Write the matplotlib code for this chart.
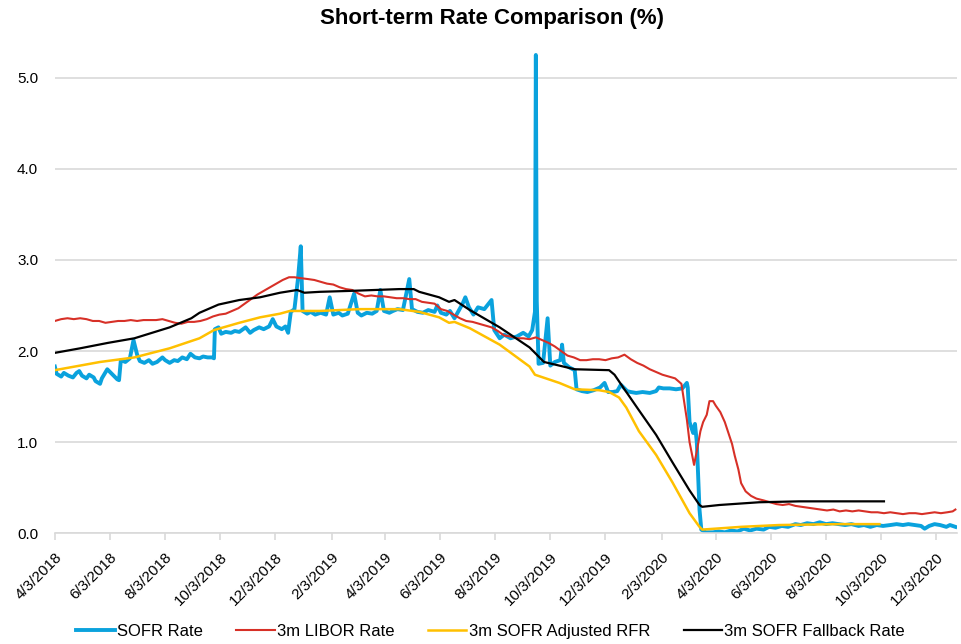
import pandas as pd
import matplotlib
matplotlib.use("Agg")
import matplotlib.pyplot as plt

plt.rcParams['font.family'] = ['Liberation Sans', 'DejaVu Sans']

# SOFR Rate
sofr_dates = ["2018-04-03", "2018-04-05", "2018-04-10", "2018-04-13", "2018-04-18", "2018-04-23", "2018-04-27",
              "2018-04-30", "2018-05-03", "2018-05-08", "2018-05-11", "2018-05-16", "2018-05-18", "2018-05-23",
              "2018-05-25", "2018-05-31", "2018-06-04", "2018-06-07", "2018-06-11", "2018-06-13", "2018-06-15",
              "2018-06-20", "2018-06-25", "2018-06-29", "2018-07-03", "2018-07-06", "2018-07-11", "2018-07-16",
              "2018-07-20", "2018-07-25", "2018-07-31", "2018-08-03", "2018-08-08", "2018-08-13", "2018-08-17",
              "2018-08-22", "2018-08-27", "2018-08-31", "2018-09-05", "2018-09-10", "2018-09-14", "2018-09-19",
              "2018-09-24", "2018-09-26", "2018-09-27", "2018-10-01", "2018-10-04", "2018-10-09", "2018-10-15",
              "2018-10-19", "2018-10-24", "2018-10-31", "2018-11-05", "2018-11-09", "2018-11-15", "2018-11-20",
              "2018-11-26", "2018-11-30", "2018-12-04", "2018-12-10", "2018-12-14", "2018-12-17", "2018-12-20",
              "2018-12-24", "2018-12-28", "2018-12-31", "2019-01-02", "2019-01-07", "2019-01-11", "2019-01-16",
              "2019-01-22", "2019-01-28", "2019-02-01", "2019-02-05", "2019-02-11", "2019-02-15", "2019-02-21",
              "2019-02-28", "2019-03-04", "2019-03-08", "2019-03-14", "2019-03-20", "2019-03-25", "2019-03-29",
              "2019-04-02", "2019-04-08", "2019-04-12", "2019-04-17", "2019-04-23", "2019-04-30", "2019-05-03",
              "2019-05-09", "2019-05-15", "2019-05-21", "2019-05-28", "2019-05-31", "2019-06-04", "2019-06-10",
              "2019-06-14", "2019-06-19", "2019-06-24", "2019-06-28", "2019-07-01", "2019-07-05", "2019-07-10",
              "2019-07-15", "2019-07-22", "2019-07-30", "2019-08-02", "2019-08-08", "2019-08-13", "2019-08-20",
              "2019-08-27", "2019-09-03", "2019-09-09", "2019-09-13", "2019-09-16", "2019-09-17", "2019-09-18",
              "2019-09-20", "2019-09-25", "2019-09-30", "2019-10-03", "2019-10-08", "2019-10-14", "2019-10-16",
              "2019-10-18", "2019-10-24", "2019-10-30", "2019-11-01", "2019-11-07", "2019-11-13", "2019-11-20",
              "2019-11-27", "2019-12-02", "2019-12-06", "2019-12-11", "2019-12-16", "2019-12-20", "2019-12-27",
              "2019-12-31", "2020-01-06", "2020-01-13", "2020-01-21", "2020-01-28", "2020-01-31", "2020-02-05",
              "2020-02-12", "2020-02-19", "2020-02-26", "2020-03-02", "2020-03-03", "2020-03-05", "2020-03-09",
              "2020-03-11", "2020-03-13", "2020-03-16", "2020-03-18", "2020-03-23", "2020-03-31", "2020-04-06",
              "2020-04-13", "2020-04-20", "2020-04-27", "2020-05-04", "2020-05-11", "2020-05-18", "2020-05-26",
              "2020-06-01", "2020-06-08", "2020-06-15", "2020-06-22", "2020-06-30", "2020-07-06", "2020-07-13",
              "2020-07-20", "2020-07-27", "2020-08-03", "2020-08-10", "2020-08-17", "2020-08-24", "2020-08-31",
              "2020-09-08", "2020-09-14", "2020-09-21", "2020-09-28", "2020-10-05", "2020-10-13", "2020-10-20",
              "2020-10-27", "2020-11-02", "2020-11-09", "2020-11-16", "2020-11-20", "2020-11-25", "2020-12-01",
              "2020-12-07", "2020-12-14", "2020-12-18", "2020-12-24"]
sofr_vals = [1.83, 1.75, 1.72, 1.76, 1.73, 1.71, 1.76,
             1.78, 1.73, 1.70, 1.74, 1.71, 1.67, 1.64,
             1.70, 1.80, 1.76, 1.73, 1.69, 1.68, 1.90,
             1.88, 1.92, 2.12, 1.96, 1.89, 1.87, 1.90,
             1.86, 1.88, 1.93, 1.90, 1.87, 1.90, 1.89,
             1.93, 1.91, 1.97, 1.93, 1.92, 1.94, 1.93,
             1.93, 1.92, 2.24, 2.26, 2.19, 2.21, 2.20,
             2.22, 2.21, 2.26, 2.20, 2.23, 2.26, 2.24,
             2.27, 2.35, 2.27, 2.24, 2.27, 2.20, 2.43,
             2.46, 2.80, 3.15, 2.44, 2.41, 2.43, 2.40,
             2.42, 2.40, 2.59, 2.40, 2.42, 2.39, 2.41,
             2.63, 2.42, 2.39, 2.42, 2.41, 2.44, 2.67,
             2.44, 2.42, 2.44, 2.46, 2.45, 2.79, 2.46,
             2.43, 2.42, 2.45, 2.43, 2.50, 2.42, 2.40,
             2.44, 2.36, 2.45, 2.52, 2.59, 2.48, 2.40,
             2.48, 2.46, 2.56, 2.23, 2.14, 2.18, 2.14,
             2.16, 2.20, 2.16, 2.23, 2.43, 5.25, 2.55,
             1.86, 1.87, 2.36, 1.84, 1.88, 1.90, 2.07,
             1.87, 1.82, 1.79, 1.58, 1.56, 1.55, 1.57,
             1.60, 1.65, 1.55, 1.55, 1.56, 1.63, 1.56,
             1.55, 1.54, 1.55, 1.54, 1.56, 1.60, 1.59,
             1.59, 1.58, 1.59, 1.65, 1.60, 1.22, 1.10,
             1.20, 1.00, 0.26, 0.04, 0.01, 0.01, 0.02,
             0.01, 0.03, 0.02, 0.05, 0.03, 0.05, 0.04,
             0.07, 0.06, 0.08, 0.07, 0.10, 0.09, 0.11,
             0.10, 0.12, 0.10, 0.11, 0.10, 0.09, 0.10,
             0.08, 0.09, 0.07, 0.09, 0.08, 0.09, 0.10,
             0.09, 0.10, 0.09, 0.08, 0.05, 0.08, 0.10,
             0.09, 0.07, 0.09, 0.07]

# 3m LIBOR Rate
libor_dates = ["2018-04-03", "2018-04-10", "2018-04-17", "2018-04-24", "2018-05-01", "2018-05-08", "2018-05-15",
               "2018-05-22", "2018-05-29", "2018-06-05", "2018-06-12", "2018-06-19", "2018-06-26", "2018-07-03",
               "2018-07-10", "2018-07-17", "2018-07-24", "2018-07-31", "2018-08-07", "2018-08-14", "2018-08-21",
               "2018-08-28", "2018-09-04", "2018-09-11", "2018-09-18", "2018-09-25", "2018-10-02", "2018-10-09",
               "2018-10-16", "2018-10-23", "2018-10-30", "2018-11-06", "2018-11-13", "2018-11-20", "2018-11-27",
               "2018-12-04", "2018-12-11", "2018-12-18", "2018-12-24", "2018-12-31", "2019-01-08", "2019-01-15",
               "2019-01-22", "2019-01-29", "2019-02-05", "2019-02-12", "2019-02-19", "2019-02-26", "2019-03-05",
               "2019-03-12", "2019-03-19", "2019-03-26", "2019-04-02", "2019-04-09", "2019-04-16", "2019-04-23",
               "2019-04-30", "2019-05-07", "2019-05-14", "2019-05-21", "2019-05-28", "2019-06-04", "2019-06-11",
               "2019-06-18", "2019-06-25", "2019-07-02", "2019-07-09", "2019-07-16", "2019-07-23", "2019-07-30",
               "2019-08-06", "2019-08-13", "2019-08-20", "2019-08-27", "2019-09-03", "2019-09-10", "2019-09-17",
               "2019-09-24", "2019-10-01", "2019-10-08", "2019-10-15", "2019-10-22", "2019-10-29", "2019-11-05",
               "2019-11-12", "2019-11-19", "2019-11-26", "2019-12-03", "2019-12-10", "2019-12-17", "2019-12-24",
               "2019-12-31", "2020-01-07", "2020-01-14", "2020-01-21", "2020-01-28", "2020-02-04", "2020-02-11",
               "2020-02-18", "2020-02-25", "2020-03-02", "2020-03-05", "2020-03-10", "2020-03-13", "2020-03-17",
               "2020-03-20", "2020-03-24", "2020-03-27", "2020-03-31", "2020-04-03", "2020-04-08", "2020-04-13",
               "2020-04-17", "2020-04-21", "2020-04-24", "2020-04-28", "2020-05-01", "2020-05-06", "2020-05-12",
               "2020-05-18", "2020-05-26", "2020-06-02", "2020-06-09", "2020-06-16", "2020-06-23", "2020-06-30",
               "2020-07-07", "2020-07-14", "2020-07-21", "2020-07-28", "2020-08-04", "2020-08-11", "2020-08-18",
               "2020-08-25", "2020-09-01", "2020-09-08", "2020-09-15", "2020-09-22", "2020-09-29", "2020-10-06",
               "2020-10-13", "2020-10-20", "2020-10-27", "2020-11-03", "2020-11-10", "2020-11-17", "2020-11-24",
               "2020-12-01", "2020-12-08", "2020-12-15", "2020-12-21", "2020-12-24"]
libor_vals = [2.33, 2.35, 2.36, 2.35, 2.36, 2.35, 2.33,
              2.33, 2.31, 2.32, 2.33, 2.33, 2.34, 2.33,
              2.34, 2.34, 2.34, 2.35, 2.33, 2.31, 2.30,
              2.32, 2.32, 2.33, 2.35, 2.38, 2.40, 2.41,
              2.44, 2.47, 2.52, 2.57, 2.62, 2.66, 2.70,
              2.74, 2.78, 2.81, 2.81, 2.80, 2.79, 2.78,
              2.76, 2.74, 2.73, 2.70, 2.68, 2.67, 2.63,
              2.60, 2.61, 2.60, 2.60, 2.59, 2.58, 2.58,
              2.57, 2.57, 2.54, 2.53, 2.52, 2.46, 2.44,
              2.40, 2.36, 2.33, 2.32, 2.30, 2.28, 2.26,
              2.22, 2.17, 2.16, 2.14, 2.14, 2.13, 2.15,
              2.12, 2.09, 2.05, 2.00, 1.95, 1.93, 1.90,
              1.90, 1.91, 1.91, 1.90, 1.92, 1.93, 1.96,
              1.91, 1.87, 1.84, 1.80, 1.77, 1.74, 1.72,
              1.70, 1.64, 1.25, 1.00, 0.75, 0.90, 1.12,
              1.22, 1.30, 1.45, 1.45, 1.40, 1.33, 1.22,
              1.10, 0.98, 0.85, 0.70, 0.55, 0.46, 0.41,
              0.38, 0.36, 0.34, 0.32, 0.31, 0.32, 0.30,
              0.29, 0.28, 0.27, 0.26, 0.25, 0.26, 0.24,
              0.25, 0.24, 0.25, 0.24, 0.23, 0.23, 0.22,
              0.23, 0.22, 0.21, 0.22, 0.22, 0.21, 0.22,
              0.23, 0.22, 0.23, 0.24, 0.26]

# 3m SOFR Adjusted RFR
adj_dates = ["2018-04-03", "2018-05-23", "2018-06-30", "2018-08-08", "2018-09-10", "2018-09-26", "2018-10-24",
             "2018-11-16", "2018-12-08", "2018-12-19", "2019-01-21", "2019-03-06", "2019-04-19", "2019-05-11",
             "2019-06-02", "2019-06-13", "2019-06-19", "2019-07-06", "2019-08-08", "2019-09-10", "2019-09-16",
             "2019-10-13", "2019-10-30", "2019-11-26", "2019-12-07", "2019-12-18", "2019-12-26", "2020-01-09",
             "2020-01-28", "2020-02-15", "2020-03-05", "2020-03-16", "2020-03-19", "2020-05-01", "2020-06-12",
             "2020-08-17", "2020-10-01"]
adj_vals = [1.79, 1.88, 1.93, 2.03, 2.14, 2.23, 2.31,
            2.37, 2.41, 2.44, 2.44, 2.46, 2.46, 2.43,
            2.37, 2.31, 2.32, 2.25, 2.07, 1.83, 1.74,
            1.65, 1.58, 1.57, 1.55, 1.49, 1.38, 1.12,
            0.86, 0.56, 0.22, 0.07, 0.04, 0.07, 0.09,
            0.10, 0.10]

# 3m SOFR Fallback Rate
fb_dates = ["2018-04-03", "2018-05-01", "2018-06-01", "2018-06-30", "2018-08-08", "2018-09-01", "2018-09-10",
            "2018-10-01", "2018-10-24", "2018-11-16", "2018-12-08", "2018-12-27", "2019-01-04", "2019-01-21",
            "2019-02-23", "2019-04-19", "2019-05-05", "2019-05-11", "2019-06-02", "2019-06-13", "2019-06-19",
            "2019-07-06", "2019-08-08", "2019-09-10", "2019-09-16", "2019-09-26", "2019-10-30", "2019-12-07",
            "2019-12-13", "2019-12-24", "2020-01-09", "2020-01-28", "2020-02-15", "2020-03-05", "2020-03-16",
            "2020-03-19", "2020-04-07", "2020-05-21", "2020-07-04", "2020-08-17", "2020-10-06"]
fb_vals = [1.98, 2.03, 2.09, 2.14, 2.26, 2.36, 2.42,
           2.51, 2.56, 2.59, 2.64, 2.67, 2.64, 2.65,
           2.66, 2.68, 2.68, 2.65, 2.59, 2.54, 2.56,
           2.45, 2.26, 2.04, 1.98, 1.88, 1.80, 1.79,
           1.74, 1.58, 1.35, 1.08, 0.78, 0.47, 0.31,
           0.29, 0.31, 0.34, 0.35, 0.35, 0.35]

tick_dates = ["2018-04-03", "2018-06-03", "2018-08-03", "2018-10-03", "2018-12-03", "2019-02-03", "2019-04-03",
              "2019-06-03", "2019-08-03", "2019-10-03", "2019-12-03", "2020-02-03", "2020-04-03", "2020-06-03",
              "2020-08-03", "2020-10-03", "2020-12-03"]
tick_labels = ["4/3/2018", "6/3/2018", "8/3/2018", "10/3/2018", "12/3/2018", "2/3/2019", "4/3/2019",
               "6/3/2019", "8/3/2019", "10/3/2019", "12/3/2019", "2/3/2020", "4/3/2020", "6/3/2020",
               "8/3/2020", "10/3/2020", "12/3/2020"]

fig = plt.figure(figsize=(9.62, 6.44), dpi=100)
ax = fig.add_axes([0.057, 0.172, 0.938, 0.778])

ax.plot(pd.to_datetime(sofr_dates), sofr_vals, color="#0AA2DD", lw=2.8, label="SOFR Rate")
ax.plot(pd.to_datetime(libor_dates), libor_vals, color="#D73027", lw=1.5, label="3m LIBOR Rate")
ax.plot(pd.to_datetime(adj_dates), adj_vals, color="#FFC000", lw=1.8, label="3m SOFR Adjusted RFR")
ax.plot(pd.to_datetime(fb_dates), fb_vals, color="black", lw=1.6, label="3m SOFR Fallback Rate")

ax.set_xlim(pd.Timestamp("2018-04-03"), pd.Timestamp("2020-12-26"))
ax.set_ylim(0, 5.5)
ax.set_yticks([0, 1, 2, 3, 4, 5])
ax.set_yticklabels(["0.0", "1.0", "2.0", "3.0", "4.0", "5.0"], fontsize=11)
ax.set_xticks(pd.to_datetime(tick_dates))
ax.set_xticklabels(tick_labels, rotation=45, ha="right", rotation_mode="anchor", fontsize=11)

ax.grid(axis="y", color="#D9D9D9", lw=1.2)
ax.set_axisbelow(True)
for s in ["top", "right", "left"]:
    ax.spines[s].set_visible(False)
ax.spines["bottom"].set_color("#D9D9D9")
ax.spines["bottom"].set_linewidth(1.2)
ax.tick_params(axis="y", length=0, pad=12)
ax.tick_params(axis="x", length=5, color="#D9D9D9", width=1.2, pad=7)

ax.set_title("Short-term Rate Comparison (%)", fontsize=16, fontweight="bold", pad=6, x=0.485)

fig.legend(loc="center", bbox_to_anchor=(0.51, 0.02), ncol=4, frameon=False, fontsize=12,
           handlelength=2.3, handletextpad=0.15, columnspacing=2.0)

fig.savefig("out.png", dpi=100)
